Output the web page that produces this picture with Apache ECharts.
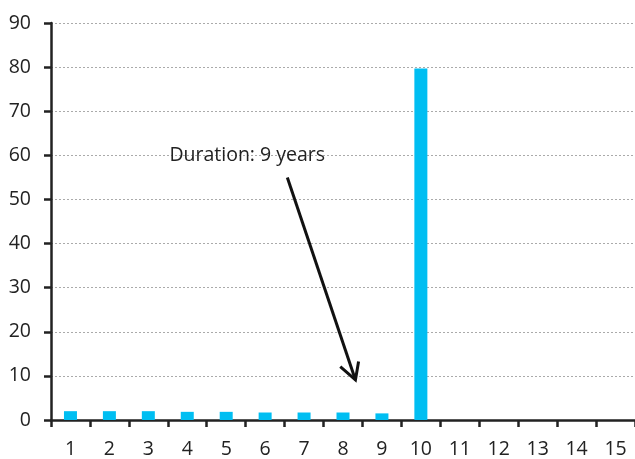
<!DOCTYPE html>
<html>
<head>
<meta charset="utf-8">
<script src="https://cdn.jsdelivr.net/npm/echarts@6/dist/echarts.min.js"></script>
<style>html,body{margin:0;padding:0;background:#fff}#c{width:635px;height:459px}</style>
</head>
<body>
<div id="c"></div>
<script>
const categories = ['1','2','3','4','5','6','7','8','9','10','11','12','13','14','15'];
const values = [2.0, 2.0, 2.0, 1.85, 1.85, 1.7, 1.7, 1.7, 1.5, 79.7, 0, 0, 0, 0, 0];
const yTicks = [0, 10, 20, 30, 40, 50, 60, 70, 80, 90];
const annotationText = 'Duration: 9 years';
const annotationPos = [5.04, 60.0];
const arrowShaft = [[6.07, 54.97], [7.82, 9.09]];
const arrowHead = [[7.43, 12.11], [7.82, 9.09], [7.90, 13.24]];

const FONT = 'Open Sans';
const FS = 19.5;
const chart = echarts.init(document.getElementById('c'), null, {renderer: 'canvas'});
chart.setOption({
  animation: false,
  grid: {left: 51, right: -3, top: 23, bottom: 37, containLabel: false},
  xAxis: [{
    type: 'category',
    data: categories,
    axisLine: {lineStyle: {color: '#222', width: 2.5}},
    axisTick: {show: true, length: 7, lineStyle: {color: '#222', width: 2.5}},
    axisLabel: {color: '#222', fontSize: FS, fontFamily: FONT, margin: 19},
    splitLine: {show: false}
  }, {
    type: 'value', min: 0, max: 15, show: false
  }],
  yAxis: {
    type: 'value', min: yTicks[0], max: yTicks[yTicks.length - 1], interval: 10,
    axisLine: {show: true, lineStyle: {color: '#222', width: 2.5}},
    axisTick: {show: true, length: 7, lineStyle: {color: '#222', width: 2.5}},
    axisLabel: {color: '#222', fontSize: FS, fontFamily: FONT, margin: 20},
    splitLine: {show: true, lineStyle: {color: '#aaa', width: 1, type: [2, 2]}}
  },
  series: [{
    type: 'bar',
    data: values,
    barWidth: 13,
    itemStyle: {color: '#00BEF2'},
    xAxisIndex: 0
  }, {
    type: 'line',
    xAxisIndex: 1,
    data: arrowShaft,
    symbol: 'none',
    lineStyle: {color: '#111', width: 3},
    silent: true
  }, {
    type: 'line',
    xAxisIndex: 1,
    data: arrowHead,
    symbol: 'none',
    lineStyle: {color: '#111', width: 3, join: 'miter'},
    silent: true
  }, {
    type: 'scatter',
    xAxisIndex: 1,
    data: [annotationPos],
    symbolSize: 0,
    itemStyle: {opacity: 1},
    label: {show: true, position: 'inside', formatter: annotationText, color: '#222', fontSize: FS, fontFamily: FONT},
    silent: true
  }]
});
</script>
</body>
</html>
